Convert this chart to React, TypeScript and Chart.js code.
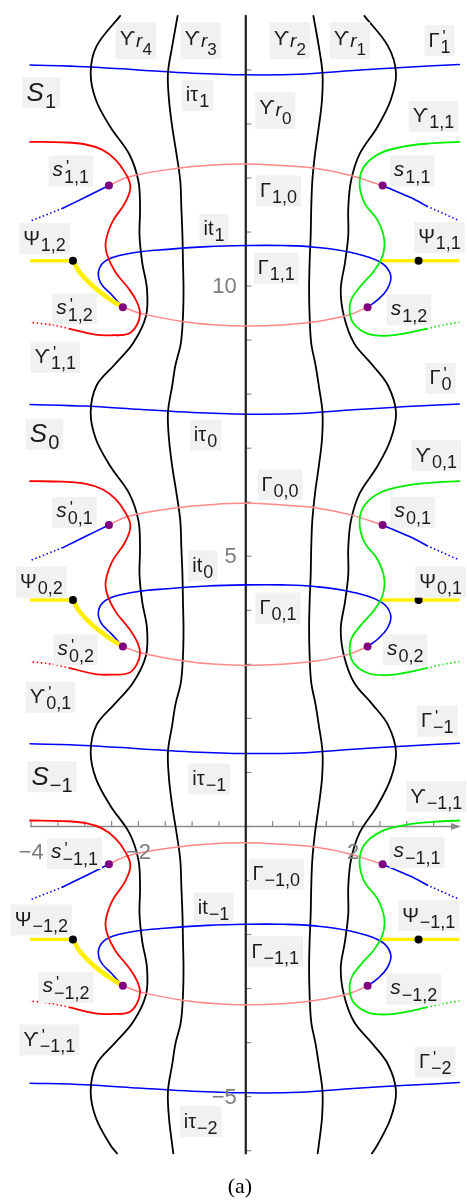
import React, { useEffect, useRef } from 'react';
import { Chart, registerables } from 'chart.js';

Chart.register(...registerables);

// visible window of the w-plane
const X_MIN = -4.505;
const X_MAX = 4.048;
const Y_MIN = -6.857;
const Y_MAX = 15.22;

// level curves ϒr1..ϒr4, sampled along the imaginary direction
const blackY = [15.0, 14.44, 13.94, 13.44, 12.94, 12.44, 11.94, 11.44, 10.94, 10.44, 9.94, 9.44, 8.94, 8.54,
  8.16, 7.66, 7.16, 6.66, 6.16, 5.66, 5.16, 4.66, 4.16, 3.66, 3.16, 2.66, 2.26,
  1.88, 1.38, 0.88, 0.38, -0.12, -0.62, -1.12, -1.62, -2.12, -2.62, -3.12, -3.62, -4.02,
  -4.40, -4.90, -5.40, -5.90, -6.05];
const outerRightX = [2.21, 2.65, 2.80, 2.70, 2.45, 2.12, 1.96, 1.91, 1.91, 1.85, 1.77, 1.83, 2.02, 2.36,
  2.65, 2.80, 2.70, 2.45, 2.12, 1.96, 1.91, 1.91, 1.85, 1.77, 1.83, 2.02, 2.36,
  2.65, 2.80, 2.70, 2.45, 2.12, 1.96, 1.91, 1.91, 1.85, 1.77, 1.83, 2.02, 2.36,
  2.65, 2.80, 2.70, 2.45, 2.35];
const innerRightX = [1.26, 1.36, 1.43, 1.42, 1.36, 1.29, 1.24, 1.22, 1.21, 1.19, 1.18, 1.19, 1.22, 1.30,
  1.36, 1.43, 1.42, 1.36, 1.29, 1.24, 1.22, 1.21, 1.19, 1.18, 1.19, 1.22, 1.30,
  1.36, 1.43, 1.42, 1.36, 1.29, 1.24, 1.22, 1.21, 1.19, 1.18, 1.19, 1.22, 1.30,
  1.36, 1.43, 1.42, 1.36, 1.34];
const innerLeftX = [-1.27, -1.37, -1.45, -1.43, -1.37, -1.29, -1.22, -1.20, -1.18, -1.17, -1.16, -1.17, -1.21, -1.31,
  -1.37, -1.45, -1.43, -1.37, -1.29, -1.22, -1.20, -1.18, -1.17, -1.16, -1.17, -1.21, -1.31,
  -1.37, -1.45, -1.43, -1.37, -1.29, -1.22, -1.20, -1.18, -1.17, -1.16, -1.17, -1.21, -1.31,
  -1.37, -1.45, -1.43, -1.37, -1.35];
const outerLeftX = [-2.34, -2.78, -2.89, -2.79, -2.52, -2.17, -2.00, -1.97, -1.98, -1.93, -1.84, -1.86, -2.10, -2.45,
  -2.78, -2.89, -2.79, -2.52, -2.17, -2.00, -1.97, -1.98, -1.93, -1.84, -1.86, -2.10, -2.45,
  -2.78, -2.89, -2.79, -2.52, -2.17, -2.00, -1.97, -1.98, -1.93, -1.84, -1.86, -2.10, -2.45,
  -2.78, -2.89, -2.79, -2.52, -2.40];
// ϒr0 runs along the imaginary axis
const axisCurveX = [0, 0];
const axisCurveY = [15.0, -6.05];

// the nearly straight contours iτk (y measured from each contour's base level)
const straightBase = [13.94, 7.66, 1.38, -4.90];
const straightX = [-4.02, -3.0, -2.0, -1.0, 0, 1.0, 2.0, 3.0, 3.98];
const straightDy = [0.15, 0.12, 0.06, 0.0, -0.03, -0.02, 0.05, 0.11, 0.16];

// each band of coloured curves hangs below one of the straight contours
const bandBase = [13.94, 7.66, 1.38];

// ϒ'k,1 (red, left side)
const redX = [-4.02, -3.41, -2.98, -2.67, -2.43, -2.25, -2.15, -2.25, -2.49, -2.61, -2.58, -2.43, -2.18, -2.03, -1.97, -2.03, -2.18, -2.49, -2.80, -3.28];
const redDy = [-1.27, -1.28, -1.32, -1.42, -1.60, -1.84, -2.10, -2.40, -2.76, -3.13, -3.37, -3.68, -3.99, -4.23, -4.45, -4.66, -4.82, -4.85, -4.84, -4.73];
const redTailX = [-3.28, -3.59, -4.02];
const redTailDy = [-4.73, -4.66, -4.61];

// ϒk,1 (green, right side)
const greenX = [3.98, 3.43, 2.94, 2.51, 2.21, 2.12, 2.21, 2.45, 2.58, 2.55, 2.39, 2.15, 1.97, 1.94, 2.03, 2.27, 2.58, 2.94, 3.37];
const greenDy = [-1.27, -1.30, -1.36, -1.48, -1.72, -2.03, -2.40, -2.71, -3.07, -3.38, -3.66, -3.93, -4.18, -4.45, -4.66, -4.82, -4.86, -4.82, -4.73];
const greenTailX = [3.37, 3.68, 3.98];
const greenTailDy = [-4.73, -4.66, -4.61];

// Γk,0 upper arc and lower arc (pink)
const pinkTopX = [-2.55, -2.19, -1.27, -0.60, 0, 0.68, 1.29, 1.90, 2.55];
const pinkTopDy = [-2.08, -1.92, -1.76, -1.70, -1.68, -1.71, -1.76, -1.88, -2.08];
const pinkBottomX = [-2.29, -1.94, -1.15, -0.54, 0, 0.68, 1.29, 1.90, 2.27];
const pinkBottomDy = [-4.33, -4.45, -4.60, -4.66, -4.68, -4.66, -4.60, -4.48, -4.33];

// Γk,1 loop (blue)
const loopX = [-2.29, -2.49, -2.71, -2.73, -2.55, -2.06, -1.45, -0.72, 0, 0.68, 1.29, 1.97, 2.51, 2.70, 2.64, 2.45, 2.27];
const loopDy = [-4.33, -4.11, -3.87, -3.62, -3.44, -3.32, -3.26, -3.21, -3.19, -3.19, -3.22, -3.32, -3.50, -3.74, -3.99, -4.20, -4.33];

// rays leaving s'k,1 and sk,1 (blue)
const rayLeftX = [-2.55, -3.00, -3.41];
const rayLeftDy = [-2.08, -2.30, -2.50];
const rayLeftTailX = [-3.41, -4.02];
const rayLeftTailDy = [-2.50, -2.74];
const rayRightX = [2.55, 3.13, 3.37];
const rayRightDy = [-2.08, -2.33, -2.46];
const rayRightTailX = [3.37, 3.98];
const rayRightTailDy = [-2.46, -2.73];

// Ψk,2 / Ψk,1 (yellow)
const yellowLeftX = [-4.02, -3.22];
const yellowLeftDy = [-3.47, -3.47];
const yellowBendX = [-3.22, -3.10, -2.86, -2.55, -2.29];
const yellowBendDy = [-3.47, -3.68, -3.93, -4.17, -4.33];
const yellowRightX = [2.53, 3.98];
const yellowRightDy = [-3.47, -3.47];

// critical points s (purple) and Ψ ends (black)
const purpleX = [-2.55, 2.55, -2.29, 2.27];
const purpleDy = [-2.08, -2.08, -4.33, -4.33];
const blackDotX = [-3.22, 3.22];
const blackDotDy = [-3.47, -3.47];

// axes
const xAxisSpan = [-4.02, 4.01];
const yAxisSpan = [-6.05, 15.0];
const xTicks = [-4, -3.5, -3, -2.5, -2, -1.5, -1, -0.5, 0, 0.5, 1, 1.5, 2, 2.5, 3, 3.5];
const xTickLabelValues = [-4, -2, 2];
const xTickLabelTexts = ['−4', '−2', '2'];
const yTicks = [-6, -5, -4, -3, -2, -1, 0, 1, 2, 3, 4, 5, 6, 7, 8, 9, 10, 11, 12, 13, 14];
const yTickLabelValues = [10, 5, -5];
const yTickLabelTexts = ['10', '5', '−5'];

// names of regions and curves: [x, y, symbol, subscript, primed]
const curveLabels: [number, number, string, string, boolean?][] = [
  [-2.05, 14.54, 'ϒ', 'r4'],
  [-0.84, 14.54, 'ϒ', 'r3'],
  [0.82, 14.54, 'ϒ', 'r2'],
  [1.94, 14.54, 'ϒ', 'r1'],
  [3.61, 14.54, 'Γ', '1', true],
  [-3.81, 13.58, 'S', '1'],
  [-0.90, 13.53, 'iτ', '1'],
  [0.55, 13.25, 'ϒ', 'r0'],
  [3.50, 13.14, 'ϒ', '1,1'],
  [-3.26, 12.13, 's', '1,1', true],
  [0.61, 11.76, 'Γ', '1,0'],
  [3.10, 12.13, 's', '1,1'],
  [-0.59, 11.05, 'it', '1'],
  [-3.75, 10.88, 'Ψ', '1,2'],
  [3.61, 10.90, 'Ψ', '1,1'],
  [0.57, 10.33, 'Γ', '1,1'],
  [-3.19, 9.58, 's', '1,2', true],
  [3.04, 9.56, 's', '1,2'],
  [-3.55, 8.68, 'ϒ', '1,1', true],
  [3.63, 8.29, 'Γ', '0', true],
  [-3.75, 7.26, 'S', '0'],
  [-0.75, 7.24, 'iτ', '0'],
  [3.55, 6.86, 'ϒ', '0,1'],
  [0.64, 6.32, 'Γ', '0,0'],
  [-3.19, 5.81, 's', '0,1', true],
  [3.11, 5.81, 's', '0,1'],
  [-0.80, 4.82, 'it', '0'],
  [-3.81, 4.52, 'Ψ', '0,2'],
  [3.63, 4.52, 'Ψ', '0,1'],
  [0.60, 4.04, 'Γ', '0,1'],
  [-3.17, 3.27, 's', '0,2', true],
  [2.97, 3.27, 's', '0,2'],
  [-3.64, 2.39, 'ϒ', '0,1', true],
  [3.57, 1.95, 'Γ', '−1', true],
  [-3.61, 0.92, 'S', '−1'],
  [-0.68, 0.88, 'iτ', '−1'],
  [3.55, 0.55, 'ϒ', '−1,1'],
  [-3.19, -0.50, 's', '−1,1', true],
  [3.19, -0.48, 's', '−1,1'],
  [0.57, -0.88, 'Γ', '−1,0'],
  [-0.60, -1.51, 'it', '−1'],
  [-3.81, -1.73, 'Ψ', '−1,2'],
  [3.41, -1.65, 'Ψ', '−1,1'],
  [0.55, -2.32, 'Γ', '−1,1'],
  [-3.35, -2.98, 's', '−1,2', true],
  [3.13, -3.01, 's', '−1,2'],
  [-3.66, -3.95, 'ϒ', '−1,1', true],
  [3.53, -4.36, 'Γ', '−2', true],
  [-0.84, -5.46, 'iτ', '−2'],
];

const SANS = '"Liberation Sans", "DejaVu Sans", Arial, sans-serif';

type Pt = { x: number; y: number };
const pts = (xs: number[], ys: number[]): Pt[] => xs.map((x, i) => ({ x, y: ys[i] }));
const hung = (xs: number[], dys: number[], base: number): Pt[] => xs.map((x, i) => ({ x, y: base + dys[i] }));

function line(data: Pt[], color: string, width: number, extra: Record<string, unknown> = {}) {
  return {
    data,
    showLine: true,
    borderColor: color,
    backgroundColor: color,
    borderWidth: width,
    pointRadius: 0,
    pointHoverRadius: 0,
    tension: 0.4,
    fill: false,
    borderCapStyle: 'round',
    borderJoinStyle: 'round',
    ...extra,
  };
}

function dots(data: Pt[], color: string) {
  return {
    data,
    showLine: false,
    pointRadius: 4,
    pointHoverRadius: 4,
    pointBackgroundColor: color,
    pointBorderColor: color,
    pointBorderWidth: 0,
  };
}

function buildDatasets() {
  const list: any[] = [];
  const BLUE = '#0000ff';
  const RED = '#ff0000';
  const GREEN = '#00ee00';
  const PINK = '#ff8888';
  const YELLOW = '#fff000';
  const dotted = { borderDash: [1.5, 2.5], borderCapStyle: 'butt' };
  // straight contours
  straightBase.forEach((b) => list.push(line(hung(straightX, straightDy, b), BLUE, 1.5, { tension: 0.3 })));
  // black level curves
  [outerLeftX, innerLeftX, innerRightX, outerRightX].forEach((xs) =>
    list.push(line(pts(xs, blackY), '#000000', 1.8, { tension: 0.35 })));
  list.push(line(pts(axisCurveX, axisCurveY), '#222222', 2.2, { tension: 0 }));
  // repeated coloured bands
  bandBase.forEach((b) => {
    list.push(line(hung(pinkTopX, pinkTopDy, b), PINK, 1.5));
    list.push(line(hung(pinkBottomX, pinkBottomDy, b), PINK, 1.5));
    list.push(line(hung(loopX, loopDy, b), BLUE, 1.6));
    list.push(line(hung(rayLeftX, rayLeftDy, b), BLUE, 1.6, { tension: 0.2 }));
    list.push(line(hung(rayLeftTailX, rayLeftTailDy, b), BLUE, 1.6, { tension: 0, ...dotted }));
    list.push(line(hung(rayRightX, rayRightDy, b), BLUE, 1.6, { tension: 0.2 }));
    list.push(line(hung(rayRightTailX, rayRightTailDy, b), BLUE, 1.6, { tension: 0, ...dotted }));
    list.push(line(hung(redX, redDy, b), RED, 1.8));
    list.push(line(hung(redTailX, redTailDy, b), RED, 1.6, { tension: 0.2, ...dotted }));
    list.push(line(hung(greenX, greenDy, b), GREEN, 1.8));
    list.push(line(hung(greenTailX, greenTailDy, b), GREEN, 1.6, { tension: 0.2, ...dotted }));
    list.push(line(hung(yellowLeftX, yellowLeftDy, b), YELLOW, 3.4, { tension: 0, borderCapStyle: 'butt' }));
    list.push(line(hung(yellowBendX, yellowBendDy, b), YELLOW, 4.6, { tension: 0.3 }));
    list.push(line(hung(yellowRightX, yellowRightDy, b), YELLOW, 3.4, { tension: 0, borderCapStyle: 'butt' }));
    list.push(dots(hung(purpleX, purpleDy, b), '#800080'));
    list.push(dots(hung(blackDotX, blackDotDy, b), '#000000'));
  });
  // later entries are painted on top
  list.forEach((d, i) => { d.order = list.length - i; });
  return list;
}

type Run = { t: string; font: string; base: number };

// a symbol with its subscript (and optional prime) on a light box centred at (cx, cy)
function drawLabel(ctx: CanvasRenderingContext2D, cx: number, cy: number, main: string, sub: string, prime?: boolean) {
  const isS = main === 'S';
  const isLower = main === 's';
  const rSub = sub.startsWith('r');
  let mainFont: string;
  let mainBase: number;
  let h: number;
  const runs: Run[] = [];
  if (isS) {
    mainFont = `italic 26px ${SANS}`;
    mainBase = cy + 8;
    h = 31;
    runs.push({ t: sub, font: `20px ${SANS}`, base: cy + 15 });
  } else if (rSub) {
    mainFont = `20px ${SANS}`;
    mainBase = cy + 4;
    h = 37;
    runs.push({ t: 'r', font: `italic 19px ${SANS}`, base: cy + 6 });
    runs.push({ t: sub.slice(1), font: `17px ${SANS}`, base: cy + 14 });
  } else {
    mainFont = `${isLower ? 'italic 21px' : '20px'} ${SANS}`;
    mainBase = cy + (isLower ? 5 : 6);
    h = 31;
    runs.push({ t: sub, font: `18px ${SANS}`, base: cy + 12 });
  }
  ctx.font = mainFont;
  const wMain = ctx.measureText(main).width;
  let wSub = 0;
  runs.forEach((r) => { ctx.font = r.font; wSub += ctx.measureText(r.t).width; });
  const w = wMain + 1 + wSub + 8;
  ctx.fillStyle = '#f1f1f1';
  ctx.fillRect(cx - w / 2, cy - h / 2, w, h);
  ctx.fillStyle = '#1c1c1c';
  ctx.textAlign = 'left';
  ctx.textBaseline = 'alphabetic';
  let x = cx - w / 2 + 4;
  ctx.font = mainFont;
  ctx.fillText(main, x, mainBase);
  x += wMain + 1;
  if (prime) {
    ctx.font = `17px ${SANS}`;
    ctx.fillText('\'', x + 2, cy + 1);
  }
  runs.forEach((r) => {
    ctx.font = r.font;
    ctx.fillText(r.t, x, r.base);
    x += ctx.measureText(r.t).width;
  });
}

const axesPlugin = {
  id: 'planeAxes',
  beforeDatasetsDraw(chart: any) {
    const { ctx, scales } = chart;
    const sx = scales.x;
    const sy = scales.y;
    const x0 = sx.getPixelForValue(0);
    const y0 = sy.getPixelForValue(0);
    ctx.save();
    ctx.strokeStyle = '#8a8a8a';
    ctx.fillStyle = '#8a8a8a';
    ctx.lineWidth = 1.5;
    const xa = sx.getPixelForValue(xAxisSpan[0]);
    const xb = sx.getPixelForValue(xAxisSpan[1]);
    ctx.beginPath();
    ctx.moveTo(xa, y0);
    ctx.lineTo(xb - 6, y0);
    ctx.stroke();
    ctx.beginPath();
    ctx.moveTo(xb, y0);
    ctx.lineTo(xb - 10, y0 - 3.5);
    ctx.lineTo(xb - 10, y0 + 3.5);
    ctx.closePath();
    ctx.fill();
    ctx.lineWidth = 1.2;
    xTicks.forEach((v) => {
      const px = sx.getPixelForValue(v);
      ctx.beginPath();
      ctx.moveTo(px, y0);
      ctx.lineTo(px, y0 - 5.5);
      ctx.stroke();
    });
    ctx.lineWidth = 1.5;
    ctx.beginPath();
    ctx.moveTo(x0, sy.getPixelForValue(yAxisSpan[1]));
    ctx.lineTo(x0, sy.getPixelForValue(yAxisSpan[0]));
    ctx.stroke();
    ctx.lineWidth = 1.2;
    yTicks.forEach((v) => {
      const py = sy.getPixelForValue(v);
      ctx.beginPath();
      ctx.moveTo(x0, py);
      ctx.lineTo(x0 + 5.5, py);
      ctx.stroke();
    });
    ctx.restore();
  },
  afterDatasetsDraw(chart: any) {
    const { ctx, scales } = chart;
    const sx = scales.x;
    const sy = scales.y;
    const x0 = sx.getPixelForValue(0);
    const y0 = sy.getPixelForValue(0);
    ctx.save();
    curveLabels.forEach(([x, y, main, sub, prime]) =>
      drawLabel(ctx, sx.getPixelForValue(x), sy.getPixelForValue(y), main, sub, prime));
    ctx.fillStyle = '#7d7d7d';
    ctx.font = `22px ${SANS}`;
    ctx.textBaseline = 'middle';
    ctx.textAlign = 'center';
    xTickLabelValues.forEach((v, i) => {
      ctx.fillText(xTickLabelTexts[i], sx.getPixelForValue(v), y0 + 26);
    });
    ctx.textAlign = 'right';
    yTickLabelValues.forEach((v, i) => {
      ctx.fillText(yTickLabelTexts[i], x0 - 9, sy.getPixelForValue(v) + 1);
    });
    ctx.restore();
  },
};

export default function App() {
  const canvasRef = useRef<HTMLCanvasElement | null>(null);

  useEffect(() => {
    const canvas = canvasRef.current;
    if (!canvas) return;
    const chart = new Chart(canvas, {
      type: 'scatter',
      data: { datasets: buildDatasets() },
      options: {
        animation: false,
        responsive: false,
        maintainAspectRatio: false,
        events: [],
        layout: { padding: 0 },
        plugins: { legend: { display: false }, tooltip: { enabled: false }, title: { display: false } },
        scales: {
          x: { type: 'linear', min: X_MIN, max: X_MAX, display: false },
          y: { type: 'linear', min: Y_MIN, max: Y_MAX, display: false },
        },
      },
      plugins: [axesPlugin],
    } as any);
    return () => chart.destroy();
  }, []);

  return (
    <div style={{ position: 'absolute', left: 0, top: 0, width: 467, height: 1201, background: '#ffffff', overflow: 'hidden' }}>
      <canvas ref={canvasRef} width={467} height={1201} style={{ display: 'block', width: 467, height: 1201 }} />
      <div
        style={{
          position: 'absolute',
          left: 0,
          top: 1174,
          width: 480,
          textAlign: 'center',
          fontFamily: '"Liberation Serif", "DejaVu Serif", serif',
          fontSize: 22,
          lineHeight: '24px',
          color: '#000000',
        }}
      >
        (a)
      </div>
    </div>
  );
}
